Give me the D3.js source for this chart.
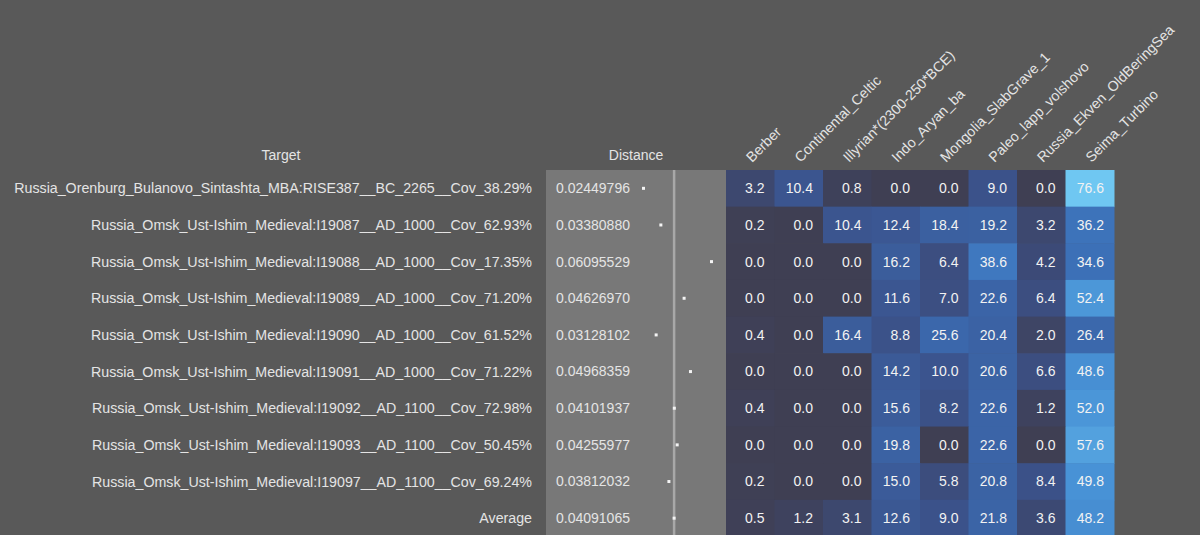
<!DOCTYPE html>
<html>
<head>
<meta charset="utf-8">
<script src="https://cdn.jsdelivr.net/npm/d3@7"></script>
<style>
  html, body { margin: 0; padding: 0; background: #595959; }
  svg { display: block; font-family: "Liberation Sans", Arial, sans-serif; }
</style>
</head>
<body>
<div id="chart"></div>
<script>
const targets = [
    'Russia_Orenburg_Bulanovo_Sintashta_MBA:RISE387__BC_2265__Cov_38.29%',
    'Russia_Omsk_Ust-Ishim_Medieval:I19087__AD_1000__Cov_62.93%',
    'Russia_Omsk_Ust-Ishim_Medieval:I19088__AD_1000__Cov_17.35%',
    'Russia_Omsk_Ust-Ishim_Medieval:I19089__AD_1000__Cov_71.20%',
    'Russia_Omsk_Ust-Ishim_Medieval:I19090__AD_1000__Cov_61.52%',
    'Russia_Omsk_Ust-Ishim_Medieval:I19091__AD_1000__Cov_71.22%',
    'Russia_Omsk_Ust-Ishim_Medieval:I19092__AD_1100__Cov_72.98%',
    'Russia_Omsk_Ust-Ishim_Medieval:I19093__AD_1100__Cov_50.45%',
    'Russia_Omsk_Ust-Ishim_Medieval:I19097__AD_1100__Cov_69.24%',
    'Average'
];

const distances = [
    0.02449796, 0.03380880, 0.06095529, 0.04626970, 0.03128102,
    0.04968359, 0.04101937, 0.04255977, 0.03812032, 0.04091065
];

const sources = [
    'Berber', 'Continental_Celtic', 'Illyrian*(2300-250*BCE)', 'Indo_Aryan_ba',
    'Mongolia_SlabGrave_1', 'Paleo_lapp_volshovo', 'Russia_Ekven_OldBeringSea', 'Seima_Turbino'
];

const values = [
    [3.2, 10.4, 0.8, 0.0, 0.0, 9.0, 0.0, 76.6],
    [0.2, 0.0, 10.4, 12.4, 18.4, 19.2, 3.2, 36.2],
    [0.0, 0.0, 0.0, 16.2, 6.4, 38.6, 4.2, 34.6],
    [0.0, 0.0, 0.0, 11.6, 7.0, 22.6, 6.4, 52.4],
    [0.4, 0.0, 16.4, 8.8, 25.6, 20.4, 2.0, 26.4],
    [0.0, 0.0, 0.0, 14.2, 10.0, 20.6, 6.6, 48.6],
    [0.4, 0.0, 0.0, 15.6, 8.2, 22.6, 1.2, 52.0],
    [0.0, 0.0, 0.0, 19.8, 0.0, 22.6, 0.0, 57.6],
    [0.2, 0.0, 0.0, 15.0, 5.8, 20.8, 8.4, 49.8],
    [0.5, 1.2, 3.1, 12.6, 9.0, 21.8, 3.6, 48.2]
];

const colorStops = [0, 4, 10, 20, 35, 50, 77];
const colorRange = ['#3f3f53', '#3c4a76', '#3b548e', '#3b62a3', '#3c70b8', '#4892d6', '#70c8f2'];

const W = 1200, H = 535;
const TEXT = '#e4e4e4';
const topY = 170, rowH = 36.65;
const labelRight = 532;
const distLeft = 546, distRight = 726;
const cellLeft = 726, cellW = 48.5;

const svg = d3.select('#chart').append('svg')
    .attr('width', W)
    .attr('height', H);

svg.append('rect')
    .attr('width', W).attr('height', H)
    .attr('fill', '#595959');

const y = d3.scaleBand()
    .domain(d3.range(targets.length))
    .range([topY, topY + rowH * targets.length]);

const x = d3.scaleBand()
    .domain(sources)
    .range([cellLeft, cellLeft + cellW * sources.length]);

const color = d3.scaleLinear()
    .domain(colorStops)
    .range(colorRange)
    .clamp(true);

const distX = d3.scaleLinear()
    .domain([d3.min(distances), d3.max(distances)])
    .range([643.5, 711.5]);

// headers
svg.append('text')
    .attr('x', 281).attr('y', 160)
    .attr('text-anchor', 'middle')
    .attr('fill', TEXT).attr('font-size', 14)
    .text('Target');

svg.append('text')
    .attr('x', 636).attr('y', 160)
    .attr('text-anchor', 'middle')
    .attr('fill', TEXT).attr('font-size', 14)
    .text('Distance');

svg.selectAll('.col-label')
    .data(sources)
    .join('text')
    .attr('class', 'col-label')
    .attr('transform', d => `translate(${x(d) + 26},163) rotate(-45)`)
    .attr('fill', TEXT).attr('font-size', 14.2)
    .text(d => d);

// target labels
svg.selectAll('.row-label')
    .data(targets)
    .join('text')
    .attr('class', 'row-label')
    .attr('x', labelRight)
    .attr('y', (d, i) => y(i) + rowH / 2)
    .attr('dy', '0.35em')
    .attr('text-anchor', 'end')
    .attr('fill', TEXT).attr('font-size', 14.22)
    .text(d => d);

// distance column
svg.append('rect')
    .attr('x', distLeft).attr('y', topY)
    .attr('width', distRight - distLeft)
    .attr('height', rowH * targets.length)
    .attr('fill', '#787878');

svg.append('line')
    .attr('x1', distX(distances[distances.length - 1]))
    .attr('x2', distX(distances[distances.length - 1]))
    .attr('y1', topY).attr('y2', topY + rowH * targets.length)
    .attr('stroke', '#a8a8a8').attr('stroke-width', 2.5);

svg.selectAll('.dist-text')
    .data(distances)
    .join('text')
    .attr('class', 'dist-text')
    .attr('x', 556)
    .attr('y', (d, i) => y(i) + rowH / 2)
    .attr('dy', '0.35em')
    .attr('fill', TEXT).attr('font-size', 14)
    .text(d => d.toFixed(8));

svg.selectAll('.dist-dot')
    .data(distances)
    .join('rect')
    .attr('class', 'dist-dot')
    .attr('x', d => distX(d) - 1.5)
    .attr('y', (d, i) => y(i) + rowH / 2 - 1.5)
    .attr('width', 3).attr('height', 3)
    .attr('fill', '#f4f4f4');

// heatmap cells
const rows = svg.selectAll('.row')
    .data(values)
    .join('g')
    .attr('class', 'row')
    .attr('transform', (d, i) => `translate(0,${y(i)})`);

rows.selectAll('rect')
    .data(d => d.map((v, j) => ({ v, s: sources[j] })))
    .join('rect')
    .attr('x', d => x(d.s))
    .attr('width', x.bandwidth() + 0.5)
    .attr('height', rowH + 0.5)
    .attr('fill', d => color(d.v));

rows.selectAll('text')
    .data(d => d.map((v, j) => ({ v, s: sources[j] })))
    .join('text')
    .attr('x', d => x(d.s) + x.bandwidth() - 10)
    .attr('y', rowH / 2)
    .attr('dy', '0.35em')
    .attr('text-anchor', 'end')
    .attr('fill', '#f2f2f2').attr('font-size', 14)
    .text(d => d.v.toFixed(1));
</script>
</body>
</html>
